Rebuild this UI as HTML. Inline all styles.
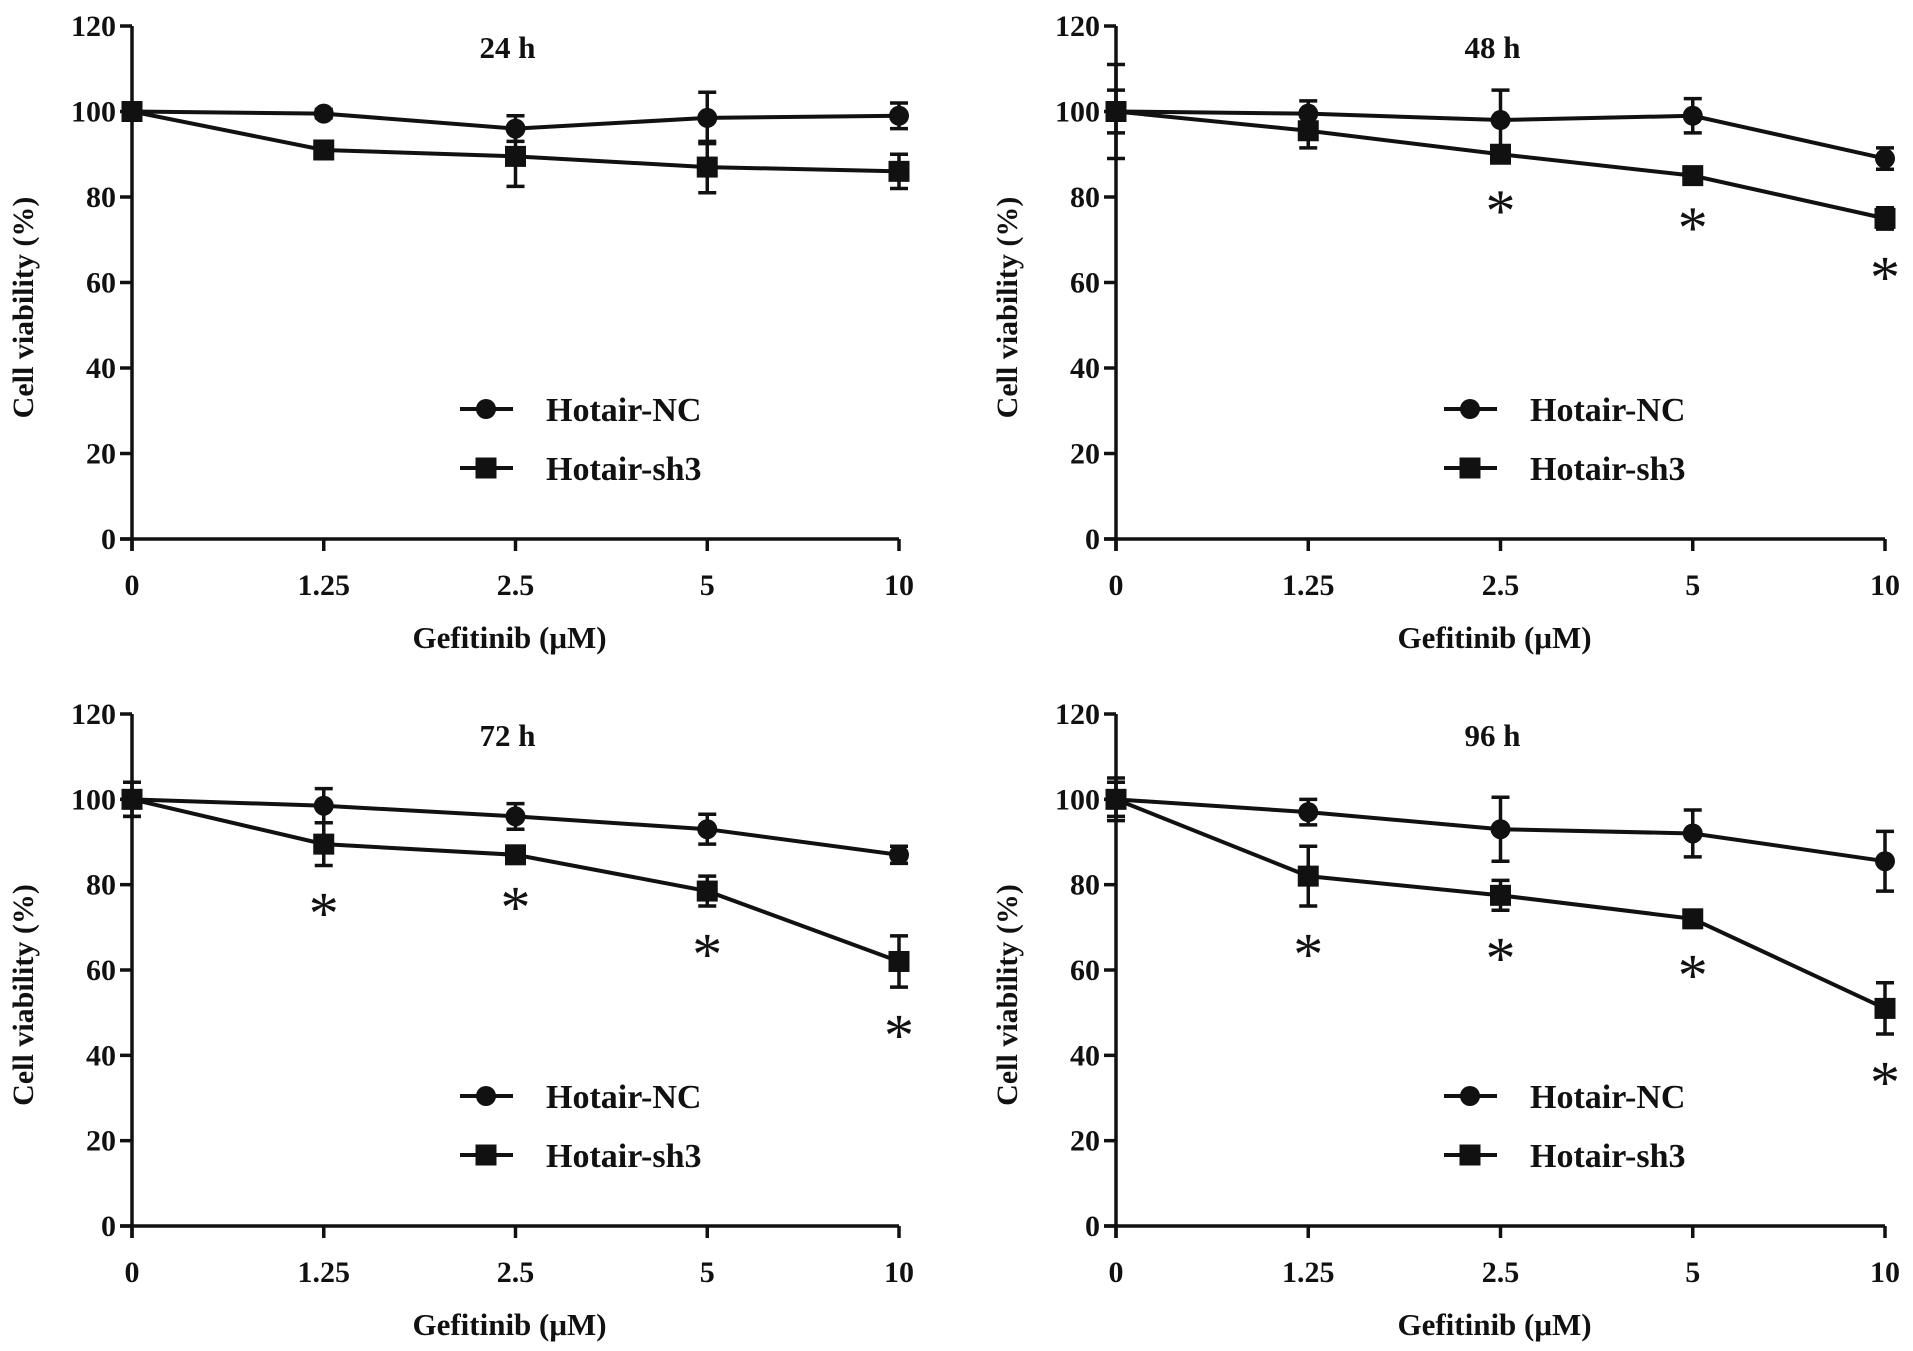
<!DOCTYPE html>
<html><head><meta charset="utf-8">
<style>
html,body{margin:0;padding:0;background:#fff;}
svg{display:block;}
text{font-family:"Liberation Serif",serif;font-weight:bold;fill:#111;}
text.star{font-weight:normal;}
</style></head>
<body>
<svg id="fig" width="1913" height="1351" viewBox="0 0 1913 1351" xmlns="http://www.w3.org/2000/svg"></svg>
<script>
const categories = ["0","1.25","2.5","5","10"];
const yTicks = [0,20,40,60,80,100,120];
const panelTitles = ["24 h","48 h","72 h","96 h"];
const ncValues = [[100,99.5,96,98.5,99],[100,99.5,98,99,89],[100,98.5,96,93,87],[100,97,93,92,85.5]];
const ncErrors = [[2,1,3,6,3],[11,3,7,4,2.5],[4,4,3,3.5,2],[4,3,7.5,5.5,7]];
const shValues = [[100,91,89.5,87,86],[100,95.5,90,85,75],[100,89.5,87,78.5,62],[100,82,77.5,72,51]];
const shErrors = [[2,2,7,6,4],[5,4,2,1,2.5],[4,5,1,3.5,6],[5,7,3.5,2,6]];
const stars = [[0,0,0,0,0],[0,0,1,1,1],[0,1,1,1,1],[0,1,1,1,1]];

const NS="http://www.w3.org/2000/svg";
const svg=document.getElementById('fig');
function mk(tag,attrs,parent){const e=document.createElementNS(NS,tag);for(const k in attrs)e.setAttribute(k,attrs[k]);(parent||svg).appendChild(e);return e;}

const panels=[{x0:132,x1:899,y0:539,y1:26},{x0:1116,x1:1885,y0:539,y1:26},{x0:132,x1:899,y0:1226,y1:714},{x0:1116,x1:1885,y0:1226,y1:714}];

panels.forEach((p,pi)=>{
  const g=mk('g',{});
  
  
  const xs=i=>p.x0+(p.x1-p.x0)*i/(categories.length-1);
  const ys=v=>p.y0-(p.y0-p.y1)*v/120;
  const ya=mk('line',{x1:p.x0,y1:ys(120),x2:p.x0,y2:p.y0+12,stroke:'#111','stroke-width':3.5},g);
  
  const xa=mk('line',{x1:p.x0-12,y1:p.y0,x2:p.x1,y2:p.y0,stroke:'#111','stroke-width':3.5},g);
  
  yTicks.forEach(v=>{
    mk('line',{x1:p.x0-12,y1:ys(v),x2:p.x0,y2:ys(v),stroke:'#111','stroke-width':3.5},g);
    const t=mk('text',{x:p.x0-16,y:ys(v)+10,'text-anchor':'end','font-size':30},g);
    t.textContent=v;
    
  });
  categories.forEach((c,i)=>{
    mk('line',{x1:xs(i),y1:p.y0,x2:xs(i),y2:p.y0+12,stroke:'#111','stroke-width':3.5},g);
    const t=mk('text',{x:xs(i),y:p.y0+56,'text-anchor':'middle','font-size':30},g);
    t.textContent=c;
    
  });
  const cx=(p.x0+p.x1)/2;
  const tt=mk('text',{x:cx-8,y:p.y1+32,'text-anchor':'middle','font-size':31},g);
  tt.textContent=panelTitles[pi];
  
  const xl=mk('text',{x:cx-6,y:p.y0+109,'text-anchor':'middle','font-size':31},g);
  xl.textContent='Gefitinib (μM)';
  
  const ym=(p.y0+p.y1)/2+25;
  const yl=mk('text',{x:0,y:0,'text-anchor':'middle','font-size':30,transform:`translate(${p.x0-99},${ym}) rotate(-90)`},g);
  yl.textContent='Cell viability (%)';
  

  function series(vals,errs,shape,name){
    const sg=mk('g',{},g);
    
    const pts=vals.map((v,i)=>xs(i)+','+ys(v)).join(' ');
    mk('polyline',{points:pts,fill:'none',stroke:'#111','stroke-width':4},sg);
    vals.forEach((v,i)=>{
      const x=xs(i),e=errs[i];
      mk('line',{x1:x,y1:ys(v+e),x2:x,y2:ys(v-e),stroke:'#111','stroke-width':3.5},sg);
      mk('line',{x1:x-9,y1:ys(v+e),x2:x+9,y2:ys(v+e),stroke:'#111','stroke-width':3.5},sg);
      mk('line',{x1:x-9,y1:ys(v-e),x2:x+9,y2:ys(v-e),stroke:'#111','stroke-width':3.5},sg);
      let m;
      if(shape==='c') m=mk('circle',{cx:x,cy:ys(v),r:10,fill:'#111'},sg);
      else m=mk('rect',{x:x-10.5,y:ys(v)-10.5,width:21,height:21,fill:'#111'},sg);
      
    });
  }
  series(ncValues[pi],ncErrors[pi],'c','series-hotair-nc');
  series(shValues[pi],shErrors[pi],'s','series-hotair-sh3');
  stars[pi].forEach((s,i)=>{
    if(!s)return;
    const v=shValues[pi][i]-shErrors[pi][i]-8.5;
    const st=mk('text',{x:xs(i),y:ys(v)+32,'text-anchor':'middle','font-size':60,'class':'star'},g);
    st.textContent='*';
    
  });
  const lx=p.x0+328, ly1=p.y0-130, ly2=p.y0-71;
  [[ly1,'c','Hotair-NC'],[ly2,'s','Hotair-sh3']].forEach(([ly,sh,lab])=>{
    const lg=mk('g',{},g);
    
    mk('line',{x1:lx,y1:ly,x2:lx+53,y2:ly,stroke:'#111','stroke-width':4},lg);
    if(sh==='c')mk('circle',{cx:lx+26,cy:ly,r:10,fill:'#111'},lg);
    else mk('rect',{x:lx+15.5,y:ly-10.5,width:21,height:21,fill:'#111'},lg);
    const t=mk('text',{x:lx+86,y:ly+12,'font-size':34},lg);
    t.textContent=lab;
  });
});
</script>
</body></html>
